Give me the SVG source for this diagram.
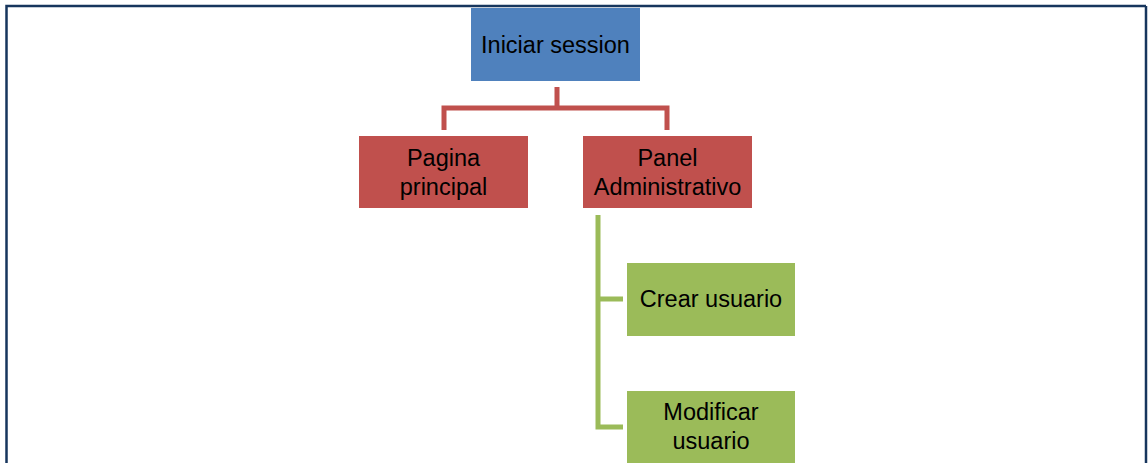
<svg xmlns="http://www.w3.org/2000/svg" width="1148" height="463" viewBox="0 0 1148 463">
<style>
.lbl{font-family:"Liberation Sans",Arial,sans-serif;font-size:23.5px;fill:#000;text-anchor:middle}
.blue{fill:#4F81BD}
.red{fill:#C0504D}
.green{fill:#9BBB59}
.rc{stroke:#C0504D;stroke-width:5;fill:none}
.gc{stroke:#9BBB59;stroke-width:5;fill:none}
</style>
<rect width="1148" height="463" fill="#fff"/>
<path d="M6.5,470 V6 H1146" fill="none" stroke="#17365D" stroke-width="2.5"/>
<path d="M1146,6 V470" fill="none" stroke="#17365D" stroke-width="2.5"/>
<g id="connectors">
<path class="rc" d="M557,87 V108 H444 V130 M557,108 H667 V130"/>
<path class="gc" d="M598,215 V427 H623 M598,299 H623"/>
</g>
<g id="iniciar"><rect class="blue" x="471" y="8" width="169" height="73"/><text class="lbl" x="555.5" y="53">Iniciar session</text></g>
<g id="pagina"><rect class="red" x="359" y="136" width="169" height="72"/><text class="lbl" x="443.5" y="166">Pagina</text><text class="lbl" x="443.5" y="195">principal</text></g>
<g id="panel"><rect class="red" x="583" y="136" width="169" height="72"/><text class="lbl" x="667.5" y="166">Panel</text><text class="lbl" x="667.5" y="195">Administrativo</text></g>
<g id="crear"><rect class="green" x="627" y="263" width="168" height="73"/><text class="lbl" x="711" y="307">Crear usuario</text></g>
<g id="modificar"><rect class="green" x="627" y="391" width="168" height="80"/><text class="lbl" x="711" y="420">Modificar</text><text class="lbl" x="711" y="449">usuario</text></g>
</svg>
